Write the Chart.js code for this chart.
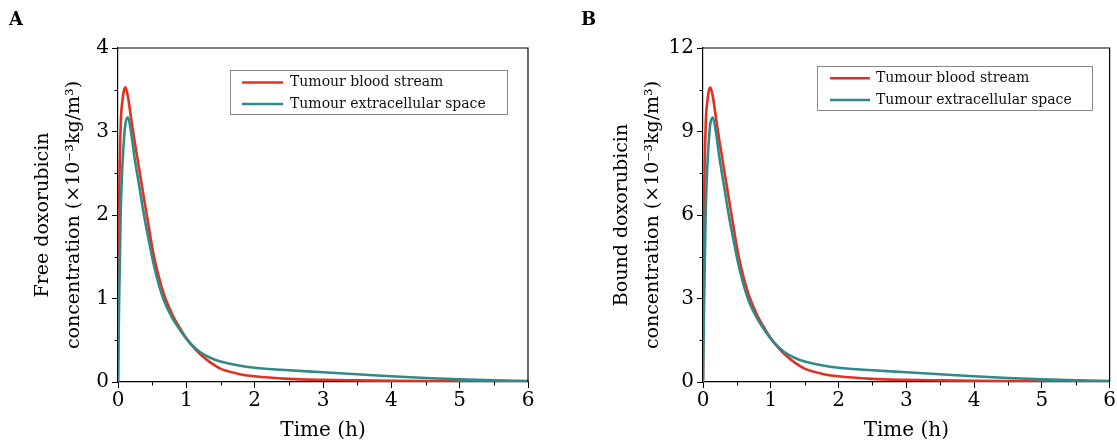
<!DOCTYPE html>
<html><head><meta charset="utf-8">
<script src="https://cdn.jsdelivr.net/npm/chart.js@4.4.1/dist/chart.umd.min.js"></script>
<style>
html,body{margin:0;padding:0;background:#fff;}
#wrap{position:relative;width:1117px;height:444px;overflow:hidden;background:#fff;}
canvas{position:absolute;top:0;}
.lab{position:absolute;font:bold 18px 'DejaVu Serif';color:#000;}
</style></head><body>
<div id="wrap">
<canvas id="ca" width="560" height="444" style="left:0"></canvas>
<canvas id="cb" width="557" height="444" style="left:560px"></canvas>
<div class="lab" style="left:9px;top:8px">A</div>
<div class="lab" style="left:581px;top:8px">B</div>
</div>
<script>
// ---- data ----
const seriesNames = ['Tumour blood stream', 'Tumour extracellular space'];
const timeH = [0, 0.015, 0.04, 0.065, 0.09, 0.11, 0.145, 0.19, 0.24, 0.3, 0.38, 0.45, 0.52, 0.6, 0.68, 0.8, 0.91, 1.0, 1.1, 1.2, 1.35, 1.5, 1.75, 2, 2.5, 3, 3.5, 4, 4.5, 5, 5.5, 6];
const freeBlood = [0, 2.0, 3.08, 3.37, 3.5, 3.53, 3.42, 3.17, 2.9, 2.6, 2.2, 1.86, 1.53, 1.25, 1.03, 0.80, 0.64, 0.525, 0.42, 0.335, 0.235, 0.16, 0.10, 0.068, 0.038, 0.026, 0.02, 0.015, 0.011, 0.008, 0.005, 0.003];
const freeExtra = [0, 0.9, 2.05, 2.6, 2.94, 3.1, 3.17, 3.0, 2.7, 2.4, 2.0, 1.7, 1.42, 1.16, 0.96, 0.76, 0.62, 0.52, 0.43, 0.36, 0.29, 0.245, 0.20, 0.17, 0.14, 0.116, 0.092, 0.068, 0.048, 0.032, 0.02, 0.012];
const boundBlood = [0, 6.0, 9.24, 10.1, 10.5, 10.58, 10.26, 9.51, 8.7, 7.8, 6.6, 5.58, 4.59, 3.75, 3.09, 2.4, 1.92, 1.575, 1.26, 1.005, 0.705, 0.48, 0.30, 0.204, 0.114, 0.078, 0.06, 0.045, 0.033, 0.024, 0.015, 0.009];
const boundExtra = [0, 2.7, 6.15, 7.8, 8.82, 9.3, 9.5, 9.0, 8.1, 7.2, 6.0, 5.1, 4.26, 3.48, 2.88, 2.28, 1.86, 1.56, 1.29, 1.08, 0.87, 0.735, 0.60, 0.51, 0.42, 0.348, 0.276, 0.204, 0.144, 0.096, 0.06, 0.036];
const xTicks = [0, 1, 2, 3, 4, 5, 6];
const yTicksA = [0, 1, 2, 3, 4];
const yTicksB = [0, 3, 6, 9, 12];
const yTitleA = ['Free doxorubicin', 'concentration (\u00d710\u207b\u00b3kg/m\u00b3)'];
const yTitleB = ['Bound doxorubicin', 'concentration (\u00d710\u207b\u00b3kg/m\u00b3)'];
const xTitle = 'Time (h)';

const RED = '#e5301f', TEAL = '#2f8a89';
const FONT = "'DejaVu Serif'";

const framePlugin = {
  id: 'frame',
  afterDraw(chart, args, o) {
    const {ctx, chartArea: a, scales: {x, y}} = chart;
    ctx.save();
    ctx.strokeStyle = '#000'; ctx.lineWidth = 1.2;
    ctx.beginPath();
    ctx.moveTo(a.left, a.top); ctx.lineTo(a.right, a.top); ctx.lineTo(a.right, a.bottom);
    ctx.stroke();
    // minor ticks
    ctx.lineWidth = 1;
    ctx.beginPath();
    for (let i = 0; i < xTicks.length - 1; i++) {
      const px = Math.round(x.getPixelForValue((xTicks[i] + xTicks[i + 1]) / 2)) + 0.5;
      ctx.moveTo(px, a.bottom); ctx.lineTo(px, a.bottom + 3.5);
    }
    const yt = o.yTicks;
    for (let i = 0; i < yt.length - 1; i++) {
      const py = Math.round(y.getPixelForValue((yt[i] + yt[i + 1]) / 2)) + 0.5;
      ctx.moveTo(a.left, py); ctx.lineTo(a.left - 3.5, py);
    }
    ctx.stroke();
    // legend
    const L = o.legend;
    ctx.strokeStyle = '#8a8a8a'; ctx.lineWidth = 1;
    ctx.strokeRect(L.x + 0.5, L.y + 0.5, L.w, L.h);
    ctx.font = '14px ' + FONT;
    ctx.textBaseline = 'middle'; ctx.textAlign = 'left';
    chart.data.datasets.forEach((ds, i) => {
      const yy = L.rows[i];
      ctx.strokeStyle = ds.borderColor; ctx.lineWidth = 2.5;
      ctx.beginPath(); ctx.moveTo(L.lx0, yy); ctx.lineTo(L.lx1, yy); ctx.stroke();
      ctx.fillStyle = '#111';
      ctx.fillText(ds.label, L.tx, yy);
    });
    ctx.restore();
  }
};

function makeChart(id, blood, extra, yTicks, yTitle, g) {
  const yMax = yTicks[yTicks.length - 1];
  return new Chart(document.getElementById(id), {
    type: 'line',
    data: {
      datasets: [
        {label: seriesNames[0], data: timeH.map((t, i) => ({x: t, y: blood[i]})), borderColor: RED, borderWidth: 2.6, order: 2},
        {label: seriesNames[1], data: timeH.map((t, i) => ({x: t, y: extra[i]})), borderColor: TEAL, borderWidth: 2.6, order: 1}
      ]
    },
    options: {
      responsive: false, animation: false, devicePixelRatio: 1,
      layout: {padding: {left: 0, right: g.padRight, top: 48, bottom: 0}},
      elements: {point: {radius: 0}, line: {cubicInterpolationMode: 'monotone', fill: false}},
      plugins: {legend: {display: false}, tooltip: {enabled: false},
        frame: {yTicks: yTicks, legend: g.legend}},
      scales: {
        x: {type: 'linear', min: 0, max: 6,
          afterFit: s => { s.height = 62; },
          afterBuildTicks: s => { s.ticks = xTicks.map(v => ({value: v})); },
          grid: {drawOnChartArea: false, drawTicks: true, tickLength: 6, color: '#000', tickColor: '#000', tickWidth: 1},
          border: {display: true, color: '#000', width: 1.2},
          ticks: {color: '#000', font: {family: FONT, size: 20}, padding: 1, maxRotation: 0},
          title: {display: true, text: xTitle, color: '#000', font: {family: FONT, size: 20, lineHeight: 1.2}, padding: {top: 0, bottom: 1}}
        },
        y: {type: 'linear', min: 0, max: yMax,
          afterFit: s => { s.width = g.yWidth; },
          afterBuildTicks: s => { s.ticks = yTicks.map(v => ({value: v})); },
          grid: {drawOnChartArea: false, drawTicks: true, tickLength: 6, color: '#000', tickColor: '#000', tickWidth: 1},
          border: {display: true, color: '#000', width: 1.2},
          ticks: {color: '#000', font: {family: FONT, size: 20}, padding: 3},
          title: {display: true, text: yTitle, color: '#000', font: {family: FONT, size: 19, lineHeight: 1.6}, padding: {top: g.titlePad, bottom: 0}}
        }
      }
    },
    plugins: [framePlugin]
  });
}

makeChart('ca', freeBlood, freeExtra, yTicksA, yTitleA, {
  padRight: 32, yWidth: 118, titlePad: 28,
  legend: {x: 230, y: 70, w: 277, h: 44, lx0: 242, lx1: 283, tx: 290, rows: [82.5, 104]}
});
makeChart('cb', boundBlood, boundExtra, yTicksB, yTitleB, {
  padRight: 7, yWidth: 143, titlePad: 47,
  legend: {x: 257, y: 66, w: 275, h: 44, lx0: 270, lx1: 310, tx: 316, rows: [78.3, 100]}
});
</script>
</body></html>
